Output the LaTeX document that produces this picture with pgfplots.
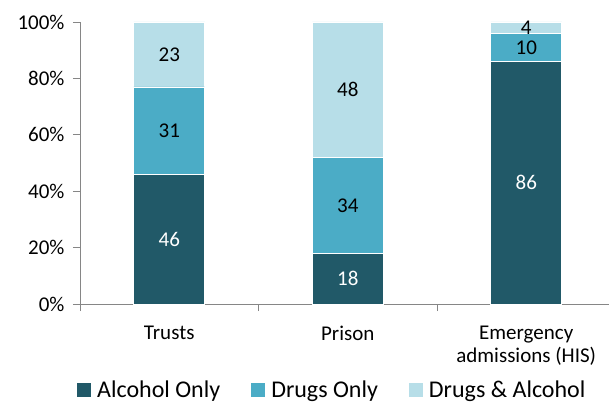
\documentclass[border=0pt]{standalone}
\usepackage{pgfplots}
\pgfplotsset{compat=1.18}
\usepackage{fontspec}
\setmainfont{Carlito}
\definecolor{cA}{HTML}{215968}
\definecolor{cB}{HTML}{4BACC6}
\definecolor{cC}{HTML}{B7DEE8}
\definecolor{axg}{HTML}{868686}
\begin{document}
\begin{tikzpicture}
\path[use as bounding box] (-80bp,-99bp) rectangle (529bp,304bp);
\begin{axis}[
  at={(0,0)}, anchor=south west,
  scale only axis, x=178.5bp, y=2.82bp,
  xmin=-0.5, xmax=2.5, ymin=0, ymax=100,
  ybar stacked, bar width=71bp,
  axis x line*=bottom, axis y line*=left,
  axis line style={axg, line width=0.9bp},
  tick align=outside, major tick length=7bp,
  tick style={axg, line width=0.9bp},
  ytick={0,20,40,60,80,100},
  yticklabel={\pgfmathprintnumber{\tick}\%},
  y tick label style={xshift=-5bp},
  xtick={-0.5,0.5,1.5,2.5},
  x tick label as interval,
  xticklabels={Trusts,Prison,{Emergency\\admissions (HIS)}},
  x tick label style={align=center, font=\fontsize{21bp}{22.7bp}\selectfont, yshift=-12bp},
  tick label style={font=\fontsize{21bp}{23bp}\selectfont},
  /pgf/number format/assume math mode=true,
  legend columns=3,
  legend style={at={(rel axis cs:0,0)}, anchor=west, xshift=-6bp, yshift=-86bp,
    draw=none, fill=none, font=\fontsize{24bp}{28bp}\selectfont,
    nodes={inner sep=0pt},
    /tikz/every even column/.append style={column sep=31bp, yshift=3bp},
    /tikz/every odd column/.append style={column sep=6bp, yshift=-3.5bp}},
  legend image code/.code={\fill[#1, draw=none] (0bp,0bp) rectangle (14bp,13.5bp);},
]
\addplot[fill=cA, draw=white, line width=0.6bp] coordinates {(0,46) (1,18) (2,86)};
\addplot[fill=cB, draw=white, line width=0.6bp] coordinates {(0,31) (1,34) (2,10)};
\addplot[fill=cC, draw=white, line width=0.6bp] coordinates {(0,23) (1,48) (2,4)};
\legend{Alcohol Only, Drugs Only, Drugs \& Alcohol}
\end{axis}
\begin{axis}[
  at={(0,0)}, anchor=south west,
  scale only axis, x=178.5bp, y=2.82bp,
  xmin=-0.5, xmax=2.5, ymin=0, ymax=100,
  hide axis, clip=false,
  nodes near coords, point meta=explicit symbolic,
  nodes near coords align=center,
  every node near coord/.append style={font=\fontsize{21bp}{23bp}\selectfont, inner sep=0pt},
]
\addplot[draw=none, mark=none, nodes near coords style={text=white}] coordinates {(0,23) [46] (1,9) [18] (2,43) [86]};
\addplot[draw=none, mark=none, nodes near coords style={text=black}] coordinates {(0,61.5) [31] (1,35) [34] (2,91) [10]};
\addplot[draw=none, mark=none, nodes near coords style={text=black}] coordinates {(0,88.5) [23] (1,76) [48] (2,98) [4]};
\end{axis}
\end{tikzpicture}
\end{document}
